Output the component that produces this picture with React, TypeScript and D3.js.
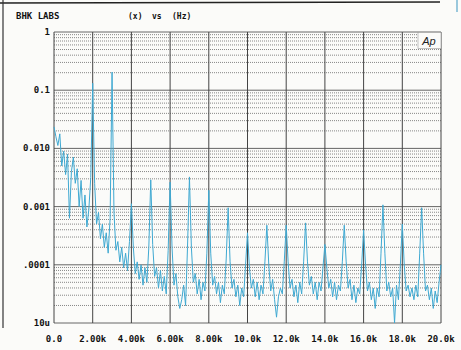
import React from "react";
import * as d3 from "d3";

// Frequency step of the trace (Hz) and log10 amplitude readings, one per step from 0 Hz
const freqStep = 100;
const traceLog10 = [
  -1.63, -1.80, -1.95, -1.75, -2.30, -2.05, -2.45, -2.10, -3.20, -2.40,
  -2.15, -2.60, -2.35, -3.00, -2.55, -3.20, -2.80, -3.35, -3.05, -2.50,
  -0.88, -2.60, -3.30, -3.10, -3.55, -3.30, -3.70, -3.45, -3.80, -3.20,
  -0.69, -3.10, -3.75, -3.60, -3.95, -3.70, -4.05, -3.80, -4.10, -3.60,
  -2.95, -3.70, -4.15, -3.95, -4.25, -4.00, -4.35, -4.05, -4.30, -3.70,
  -2.54, -3.65, -4.20, -4.05, -4.40, -4.10, -4.45, -4.20, -4.50, -3.75,
  -2.58, -3.70, -4.35, -4.15, -4.55, -4.75, -4.60, -4.35, -4.70, -3.70,
  -2.49, -3.70, -4.30, -4.15, -4.50, -4.25, -4.60, -4.30, -4.45, -3.80,
  -2.72, -3.80, -4.35, -4.20, -4.50, -4.30, -4.65, -4.35, -4.50, -3.90,
  -3.02, -3.95, -4.40, -4.25, -4.55, -4.35, -4.70, -4.40, -4.55, -4.00,
  -3.45, -4.05, -4.40, -4.25, -4.55, -4.30, -4.60, -4.35, -4.50, -3.95,
  -3.32, -4.00, -4.45, -4.25, -4.60, -4.90, -4.55, -4.40, -4.50, -3.95,
  -3.32, -3.95, -4.40, -4.25, -4.55, -4.35, -4.65, -4.30, -4.50, -3.95,
  -3.28, -3.95, -4.35, -4.20, -4.50, -4.30, -4.60, -4.30, -4.45, -4.05,
  -3.65, -4.05, -4.40, -4.25, -4.55, -4.30, -4.60, -4.35, -4.45, -3.95,
  -3.32, -3.95, -4.40, -4.25, -4.60, -4.35, -4.65, -4.40, -4.50, -4.00,
  -3.40, -4.00, -4.45, -4.30, -4.60, -4.40, -4.75, -4.40, -4.55, -3.80,
  -2.97, -3.80, -4.45, -4.30, -4.55, -4.40, -5.00, -4.35, -4.60, -4.00,
  -3.30, -4.00, -4.45, -4.35, -4.55, -4.40, -4.60, -4.35, -4.55, -3.80,
  -3.02, -3.80, -4.45, -4.35, -4.60, -4.40, -4.75, -4.45, -4.65, -4.30,
  -4.00,
];

const xTickValues = [0, 2000, 4000, 6000, 8000, 10000, 12000, 14000, 16000, 18000, 20000];
const xTickLabels = ["0.0", "2.00k", "4.00k", "6.00k", "8.00k", "10.0k", "12.0k", "14.0k", "16.0k", "18.0k", "20.0k"];
const yTickValues = [1, 0.1, 0.01, 0.001, 0.0001, 0.00001];
const yTickLabels = ["1", "0.1", "0.010", "0.001", ".0001", "10u"];

const W = 461;
const H = 350;
const L = 54, R = 441, T = 32, B = 323;
const FONT = "'DejaVu Sans Mono', monospace";

export default function App() {
  const x = d3.scaleLinear().domain([0, 20000]).range([L, R]);
  const y = d3.scaleLog().domain([1e-5, 1]).range([B, T]);

  const pts: [number, number][] = traceLog10.map((v, i) => [i * freqStep, Math.pow(10, v)]);
  const line = d3
    .line<[number, number]>()
    .x((d) => x(d[0]))
    .y((d) => y(d[1]));

  const minor: number[] = [];
  for (let e = -5; e < 0; e++) {
    for (let m = 2; m <= 9; m++) minor.push(m * Math.pow(10, e));
  }

  return (
    <svg
      width={W}
      height={H}
      style={{ position: "absolute", left: 0, top: 0, background: "#fbfbf9" }}
    >
      {/* scan frame */}
      <line x1={0} y1={3} x2={440} y2={2} stroke="#222" strokeWidth={1.5} />
      <line x1={3} y1={0} x2={3} y2={328} stroke="#333" strokeWidth={1.2} />
      <line x1={457} y1={0} x2={457} y2={12} stroke="#5aa7c9" strokeWidth={1.2} />

      {/* minor horizontal grid */}
      {minor.map((v, i) => (
        <line
          key={"m" + i}
          x1={L}
          x2={R}
          y1={y(v)}
          y2={y(v)}
          stroke="#6a6a6a"
          strokeWidth={0.8}
          strokeDasharray="1,1"
        />
      ))}
      {/* decade lines */}
      {yTickValues.map((v, i) => (
        <line key={"d" + i} x1={L} x2={R} y1={y(v)} y2={y(v)} stroke="#555" strokeWidth={0.9} />
      ))}
      {/* vertical grid */}
      {xTickValues.map((v, i) => (
        <line key={"v" + i} x1={x(v)} x2={x(v)} y1={T} y2={B} stroke="#444" strokeWidth={1} />
      ))}

      {/* trace */}
      <path d={line(pts) || ""} fill="none" stroke="#3fa9d2" strokeWidth={1} strokeLinejoin="round" />

      {/* Ap logo */}
      <rect x={418} y={32.5} width={23} height={16} fill="#fbfbf9" stroke="#999" strokeWidth={0.6} />
      <text x={429} y={45} textAnchor="middle" fontFamily="'Liberation Sans', sans-serif" fontStyle="italic" fontSize={11} fill="#222">
        Ap
      </text>

      {/* titles */}
      <text x={16} y={19} fontFamily={FONT} fontWeight="bold" fontSize={9} fill="#111">BHK LABS</text>
      <text x={128} y={19} fontFamily={FONT} fontWeight="bold" fontSize={8} fill="#111">(x)</text>
      <text x={152} y={19} fontFamily={FONT} fontWeight="bold" fontSize={8} fill="#111">vs</text>
      <text x={172} y={19} fontFamily={FONT} fontWeight="bold" fontSize={8} fill="#111">(Hz)</text>

      {/* y labels */}
      {yTickValues.map((v, i) => (
        <text
          key={"yl" + i}
          x={50}
          y={y(v) + 3}
          textAnchor="end"
          fontFamily={FONT}
          fontWeight="bold"
          fontSize={9}
          fill="#111"
        >
          {yTickLabels[i]}
        </text>
      ))}
      {/* x labels */}
      {xTickValues.map((v, i) => (
        <text
          key={"xl" + i}
          x={x(v)}
          y={342}
          textAnchor="middle"
          fontFamily={FONT}
          fontWeight="bold"
          fontSize={9}
          fill="#111"
        >
          {xTickLabels[i]}
        </text>
      ))}
    </svg>
  );
}
